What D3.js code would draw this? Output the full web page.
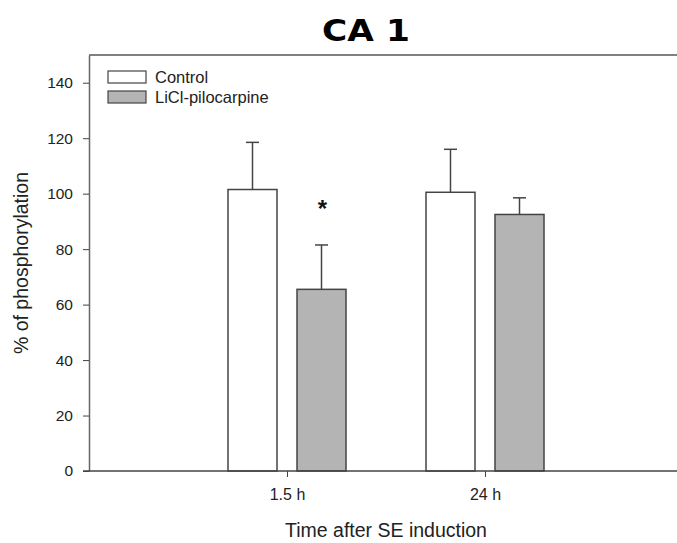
<!DOCTYPE html>
<html>
<head>
<meta charset="utf-8">
<script src="https://cdn.jsdelivr.net/npm/d3@7"></script>
<style>
  body { margin: 0; background: #fff; }
  svg { display: block; }
</style>
</head>
<body>
<div id="chart"></div>
<script>
// data
const timePoints = ["1.5 h", "24 h"];
const groups = ["Control", "LiCl-pilocarpine"];
const controlMean = [101.5, 100.5];
const controlErr = [17, 15.5];
const licliMean = [65.5, 92.5];
const licliErr = [16, 6];
const significant = [true, false];
const yTicks = [0, 20, 40, 60, 80, 100, 120, 140];

const width = 677, height = 543;
const margin = { top: 55, left: 89, bottom: 72 };
const font = "'Liberation Sans', Arial, sans-serif";

const svg = d3.select("#chart").append("svg")
  .attr("width", width)
  .attr("height", height)
  .style("font-family", font);

// x runs past the right edge, like in the original
const x = d3.scaleLinear().domain([0, 3]).range([margin.left, 683]);
const y = d3.scaleLinear().domain([0, 150]).range([height - margin.bottom, margin.top]);

const barW = 49, gap = 20;
const fills = ["#ffffff", "#b4b4b4"];

// frame: top line
svg.append("line")
  .attr("x1", x(0)).attr("x2", width)
  .attr("y1", y(150)).attr("y2", y(150))
  .attr("stroke", "#808080").attr("stroke-width", 2);

// y axis
const yAxis = svg.append("g")
  .attr("transform", `translate(${x(0)},0)`)
  .call(d3.axisLeft(y).tickValues(yTicks).tickSize(6).tickPadding(10).tickSizeOuter(0));
yAxis.select(".domain").attr("stroke", "#666").attr("stroke-width", 1.5);
yAxis.selectAll(".tick line").attr("stroke", "#444");
yAxis.selectAll("text").attr("font-size", 15.5).attr("fill", "#222")
  .style("font-family", font);

// bars
const series = [
  { mean: controlMean, err: controlErr, off: -gap / 2 - barW, fill: fills[0] },
  { mean: licliMean, err: licliErr, off: gap / 2, fill: fills[1] }
];

series.forEach(s => {
  const g = svg.append("g");
  const rows = timePoints.map((t, i) => ({ i, mean: s.mean[i], err: s.err[i] }));
  // error bars (upper only)
  g.selectAll("line.err")
    .data(rows).join("line")
    .attr("x1", d => x(d.i + 1) + s.off + barW / 2)
    .attr("x2", d => x(d.i + 1) + s.off + barW / 2)
    .attr("y1", d => y(d.mean))
    .attr("y2", d => y(d.mean + d.err))
    .attr("stroke", "#444").attr("stroke-width", 1.5);
  g.selectAll("line.cap")
    .data(rows).join("line")
    .attr("x1", d => x(d.i + 1) + s.off + barW / 2 - 6.5)
    .attr("x2", d => x(d.i + 1) + s.off + barW / 2 + 6.5)
    .attr("y1", d => y(d.mean + d.err))
    .attr("y2", d => y(d.mean + d.err))
    .attr("stroke", "#444").attr("stroke-width", 1.5);
  g.selectAll("rect")
    .data(rows).join("rect")
    .attr("x", d => x(d.i + 1) + s.off)
    .attr("y", d => y(d.mean))
    .attr("width", barW)
    .attr("height", d => y(0) - y(d.mean))
    .attr("fill", s.fill)
    .attr("stroke", "#444").attr("stroke-width", 1.5);
});

// significance star
timePoints.forEach((t, i) => {
  if (!significant[i]) return;
  svg.append("text")
    .attr("x", x(i + 1) + gap / 2 + barW / 2 + 1)
    .attr("y", y(licliMean[i] + licliErr[i]) - 28)
    .attr("text-anchor", "middle")
    .attr("font-size", 24).attr("font-weight", "bold")
    .attr("fill", "#111")
    .text("*");
});

// x axis
const xAxis = svg.append("g")
  .attr("transform", `translate(0,${y(0)})`)
  .call(d3.axisBottom(x).tickValues([1, 2]).tickFormat((d, i) => timePoints[i])
    .tickSize(6).tickPadding(12).tickSizeOuter(0));
xAxis.select(".domain").attr("d", `M${x(0) - 6},0H${width}`)
  .attr("stroke", "#444").attr("stroke-width", 1.5);
xAxis.selectAll(".tick line").attr("stroke", "#444");
xAxis.selectAll("text").attr("font-size", 16).attr("fill", "#222")
  .style("font-family", font);

// legend
const legend = svg.append("g").attr("transform", "translate(108,71)");
groups.forEach((name, i) => {
  legend.append("rect")
    .attr("x", 0).attr("y", i * 20)
    .attr("width", 38).attr("height", 12)
    .attr("fill", fills[i]).attr("stroke", "#444").attr("stroke-width", 1.2);
  legend.append("text")
    .attr("x", 47).attr("y", i * 20 + 12)
    .attr("font-size", 16.5).attr("fill", "#222")
    .text(name);
});

// title
svg.append("g")
  .attr("transform", "translate(366,41) scale(1.11,1)")
  .append("text")
  .attr("text-anchor", "middle")
  .attr("font-family", "'DejaVu Sans', Verdana, sans-serif")
  .attr("font-weight", "bold").attr("font-size", 31)
  .text("CA 1");

// axis titles
svg.append("text")
  .attr("transform", `translate(28,${(y(0) + y(150)) / 2}) rotate(-90)`)
  .attr("text-anchor", "middle")
  .attr("font-size", 19.5).attr("fill", "#222")
  .text("% of phosphorylation");

svg.append("text")
  .attr("x", x(1.5)).attr("y", 537)
  .attr("text-anchor", "middle")
  .attr("font-size", 19.5).attr("fill", "#222")
  .text("Time after SE induction");
</script>
</body>
</html>
